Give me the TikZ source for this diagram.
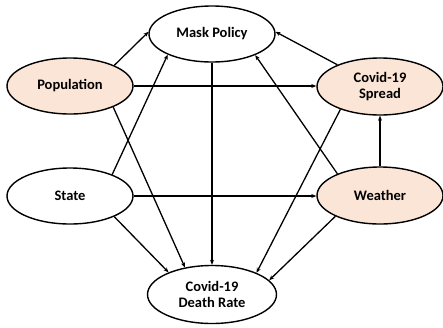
\documentclass[tikz,border=0pt]{standalone}
\usepackage{fontspec}
\setmainfont{Carlito}
\usetikzlibrary{shapes.geometric,arrows.meta}
\definecolor{peach}{HTML}{FBE5D6}
\tikzset{
  var/.style={ellipse, draw=black, line width=1.4pt, minimum width=126pt, minimum height=56pt, inner sep=0pt, align=center, font=\fontsize{14.5}{16}\selectfont\bfseries},
  obs/.style={var, fill=peach},
  arr/.style={line width=1.3pt, -{Stealth[length=5pt,width=4pt]}}
}
\begin{document}
\begin{tikzpicture}[x=1pt,y=-1pt]
\useasboundingbox (0,0) rectangle (443,327);
\node[var] (mask) at (212,34) {Mask Policy};
\node[obs] (pop) at (70,86) {Population};
\node[obs, minimum height=57pt] (spread) at (380,86.5) {Covid-19\\Spread};
\node[var] (state) at (70,196) {State};
\node[obs, minimum height=57pt] (weather) at (380,195.5) {Weather};
\node[var, minimum width=129pt, minimum height=58pt] (death) at (212,294.5) {Covid-19\\Death Rate};
\draw[arr] (pop.25) -- (mask.178);
\draw[arr] (pop.east) -- (spread.west |- pop.east);
\draw[arr] (pop.-26) -- (death.135);
\draw[arr] (state.27) -- (mask.205);
\draw[arr] (state.east) -- (weather.west |- state.east);
\draw[arr] (state.-25) -- (death.153);
\draw[arr] (mask.south) -- (death.north);
\draw[arr] (spread.153) -- (mask.2);
\draw[arr] (spread.210) -- (death.26);
\draw[arr] (weather.153) -- (mask.-26);
\draw[arr] (weather.north) -- (spread.south);
\draw[arr] (weather.205) -- (death.14);
\end{tikzpicture}
\end{document}
